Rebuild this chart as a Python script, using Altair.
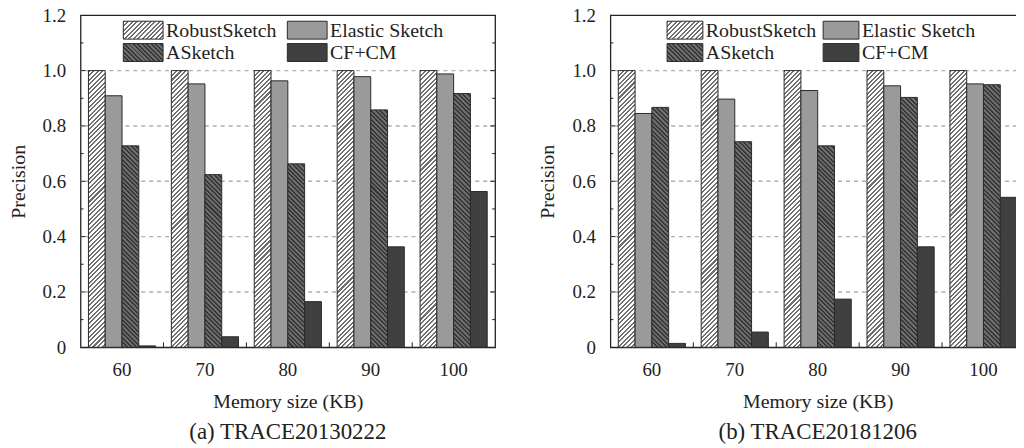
import math
import altair as alt
import pandas as pd

# ---------------- data ----------------
memory = [60, 70, 80, 90, 100]
series = ["RobustSketch", "Elastic Sketch", "ASketch", "CF+CM"]

a_robust = [1.0, 1.0, 1.0, 1.0, 1.0]
a_elastic = [0.909, 0.952, 0.963, 0.978, 0.988]
a_asketch = [0.728, 0.624, 0.663, 0.858, 0.917]
a_cfcm = [0.005, 0.038, 0.165, 0.363, 0.563]

b_robust = [1.0, 1.0, 1.0, 1.0, 1.0]
b_elastic = [0.845, 0.897, 0.928, 0.945, 0.952]
b_asketch = [0.867, 0.743, 0.728, 0.903, 0.949]
b_cfcm = [0.014, 0.055, 0.174, 0.363, 0.542]

y_labels = [0, 0.2, 0.4, 0.6, 0.8, 1.0, 1.2]
grid_values = [0.2, 0.4, 0.6, 0.8, 1.0]
major_ticks = [0.2, 0.4, 0.6, 0.8, 1.0]
minor_ticks = [0.1, 0.3, 0.5, 0.7, 0.9, 1.1]

captions = ["(a) TRACE20130222", "(b) TRACE20181206"]

# ---------------- style ----------------
FONT = "Liberation Serif"
W, H = 417, 334
Y_MAX = 1.2
PAD_INNER = 0.19
PAD_OUTER = PAD_INNER / 2
STEP = W / (len(memory) - PAD_INNER + 2 * PAD_OUTER)
BAR_W = STEP * (1 - PAD_INNER) / len(series)
EDGE = "#2a2a2a"
TXT = "#222222"

STYLE = {
    "RobustSketch": {"kind": "hatch", "bg": "#ffffff", "fg": "#707070", "forward": True},
    "Elastic Sketch": {"kind": "solid", "color": "#9a9a9a"},
    "ASketch": {"kind": "hatch", "bg": "#6c6c6c", "fg": "#363636", "forward": False},
    "CF+CM": {"kind": "solid", "color": "#404040"},
}


def hatch(w, h, bg, fg, forward=True, period=3.2, frac=0.45):
    k = (w + h) / (w * w + h * h)
    span = (w + h) / math.sqrt(2)
    n = max(1, int(round(span / period)))
    stops = []
    for i in range(n):
        a = i / n
        b = (i + frac) / n
        c = (i + 1) / n
        stops += [
            {"offset": a, "color": fg},
            {"offset": b, "color": fg},
            {"offset": b, "color": bg},
            {"offset": c, "color": bg},
        ]
    if forward:
        x1, y1, x2, y2 = 0, 0, k * w, k * h
    else:
        x1, y1, x2, y2 = 0, 1, k * w, 1 - k * h
    return {"gradient": "linear", "x1": x1, "y1": y1, "x2": x2, "y2": y2, "stops": stops}


def fill_for(name, w, h):
    st = STYLE[name]
    if st["kind"] == "solid":
        return st["color"]
    return hatch(w, h, st["bg"], st["fg"], st["forward"])


def panel(values, caption, legend_pos):
    rows = []
    for s, vals in zip(series, values):
        for m, v in zip(memory, vals):
            rows.append({"mem": m, "series": s, "value": v})
    df = pd.DataFrame(rows)

    x_scale = alt.Scale(domain=memory, paddingInner=PAD_INNER, paddingOuter=PAD_OUTER)
    x_axis = alt.Axis(
        title="Memory size (KB)", ticks=False, tickSize=0, domain=False, grid=False,
        labelAngle=0, labelFont=FONT, labelFontSize=19, labelPadding=13, labelColor=TXT,
        titleFont=FONT, titleFontSize=20, titleFontWeight="normal", titlePadding=13,
        titleColor=TXT,
    )
    y_scale = alt.Scale(domain=[0, Y_MAX], nice=False, zero=True)
    y_axis = alt.Axis(
        title="Precision", values=y_labels, ticks=False, tickSize=0, domain=False, grid=False,
        labelExpr="datum.value == 0 ? '0' : format(datum.value, '.1f')",
        labelFont=FONT, labelFontSize=19, labelPadding=15, labelColor=TXT,
        titleFont=FONT, titleFontSize=20, titleFontWeight="normal", titlePadding=14,
        titleColor=TXT,
    )
    x_enc = alt.X("mem:O", scale=x_scale, axis=x_axis)
    y_enc = alt.Y("value:Q", scale=y_scale, axis=y_axis)
    xo_enc = alt.XOffset("series:N", scale=alt.Scale(domain=series, paddingInner=0, paddingOuter=0))

    layers = []
    # dashed grid
    layers.append(
        alt.Chart(pd.DataFrame({"value": grid_values}))
        .mark_rule(color="#b0b0b0", strokeDash=[4, 4], strokeWidth=1.4)
        .encode(y=y_enc)
    )
    # bars
    for s in series:
        sub = df[df["series"] == s]
        if STYLE[s]["kind"] == "solid":
            groups = [None]
        else:
            groups = sorted(sub["value"].unique())
        for g in groups:
            if g is None:
                h = H / 2
                ch = alt.Chart(df).transform_filter(alt.datum.series == s)
            else:
                h = g / Y_MAX * H
                ch = alt.Chart(df).transform_filter(
                    (alt.datum.series == s) & (alt.datum.value == float(g))
                )
            layers.append(
                ch.mark_bar(fill=fill_for(s, BAR_W, h), stroke=EDGE, strokeWidth=1)
                .encode(x=x_enc, xOffset=xo_enc, y=y_enc)
            )
    # inward ticks on left / right
    for vals, ln in ((major_ticks, 5), (minor_ticks, 3)):
        tdf = pd.DataFrame({"value": vals})
        layers.append(
            alt.Chart(tdf).mark_rule(color=TXT, strokeWidth=1)
            .encode(y=y_enc, x=alt.value(0), x2=alt.value(ln))
        )
        layers.append(
            alt.Chart(tdf).mark_rule(color=TXT, strokeWidth=1)
            .encode(y=y_enc, x=alt.value(W - ln), x2=alt.value(W))
        )
    # inward ticks between groups on the bottom axis
    layers.append(
        alt.Chart(pd.DataFrame({"mem": memory[1:]}))
        .mark_rule(color=TXT, strokeWidth=1, xOffset=-PAD_INNER * STEP / 2)
        .encode(
            x=alt.X("mem:O", scale=x_scale, axis=x_axis, bandPosition=0),
            y=alt.value(H - 5), y2=alt.value(H),
        )
    )
    # manual legend
    one = pd.DataFrame({"k": [0]})
    sw_w, sw_h = legend_pos["sw_w"], 18
    for i, s in enumerate(series):
        col, row = i % 2, i // 2
        x0 = legend_pos["cols"][col]
        y0 = legend_pos["rows"][row]
        layers.append(
            alt.Chart(one).mark_rect(fill=fill_for(s, sw_w, sw_h), stroke=EDGE, strokeWidth=1)
            .encode(x=alt.value(x0), x2=alt.value(x0 + sw_w), y=alt.value(y0), y2=alt.value(y0 + sw_h))
        )
        layers.append(
            alt.Chart(one).mark_text(
                text=s, align="left", baseline="middle", font=FONT, fontSize=20, color=TXT
            ).encode(x=alt.value(x0 + sw_w + 3), y=alt.value(y0 + sw_h / 2 + 1))
        )

    return alt.layer(*layers).properties(
        width=W, height=H,
        title=alt.TitleParams(
            caption, orient="bottom", fontSize=23, fontWeight="normal", font=FONT,
            color=TXT, offset=9, anchor="middle",
        ),
    )


left = panel([a_robust, a_elastic, a_asketch, a_cfcm], captions[0],
             {"cols": [43, 208], "rows": [6, 28.5], "sw_w": 40})
right = panel([b_robust, b_elastic, b_asketch, b_cfcm], captions[1],
              {"cols": [57, 214], "rows": [6, 28.5], "sw_w": 36})

chart = (
    alt.hconcat(left, right, spacing=40)
    .properties(padding={"left": -1, "top": -4, "right": -11, "bottom": 0})
    .configure(font=FONT)
    .configure_axis(labelFont=FONT, titleFont=FONT)
    .configure_text(font=FONT)
    .configure_title(font=FONT)
    .configure_view(stroke="#222", strokeWidth=1.3)
)

chart.save("out.html", embed_options={"renderer": "svg", "actions": False})
